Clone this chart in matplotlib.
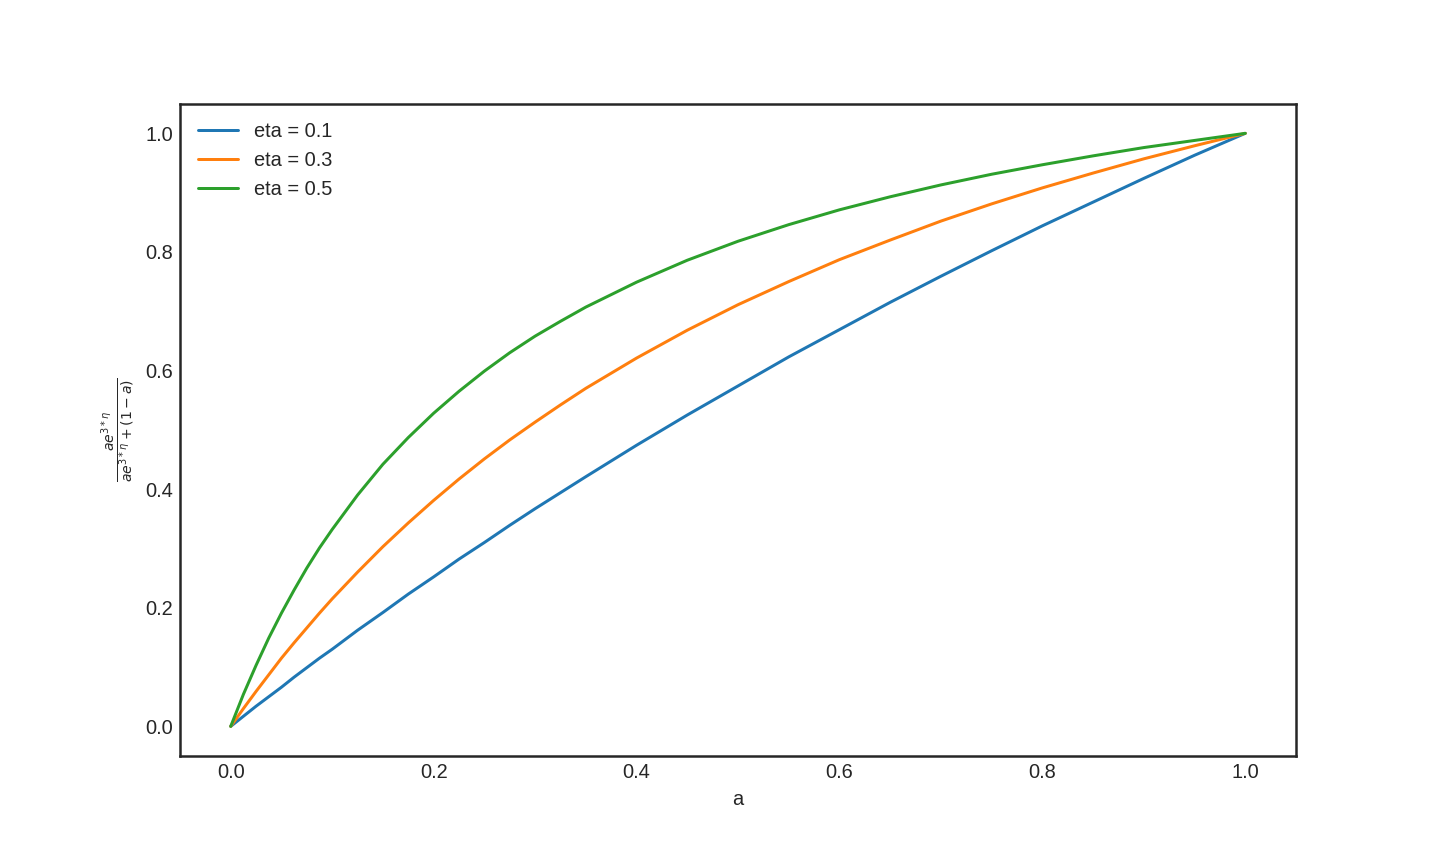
import matplotlib
matplotlib.use("Agg")
import matplotlib.pyplot as plt

# values
a_vals = [0.0, 0.0125, 0.025, 0.0375, 0.05, 0.0625, 0.075, 0.0875, 0.1, 0.125, 0.15, 0.175,
          0.2, 0.225, 0.25, 0.275, 0.3, 0.325, 0.35, 0.4, 0.45,
          0.5, 0.55, 0.6, 0.65, 0.7, 0.75, 0.8, 0.85, 0.9, 0.95, 1.0]
eta_01 = [0.0, 0.017, 0.034, 0.050, 0.066, 0.083, 0.099, 0.115, 0.130, 0.162, 0.192, 0.223,
          0.252, 0.282, 0.310, 0.339, 0.367, 0.394, 0.421, 0.474, 0.525,
          0.574, 0.623, 0.669, 0.715, 0.759, 0.802, 0.844, 0.884, 0.924, 0.963, 1.0]
eta_03 = [0.0, 0.030, 0.059, 0.087, 0.115, 0.141, 0.166, 0.191, 0.215, 0.260, 0.303, 0.343,
          0.381, 0.417, 0.451, 0.483, 0.513, 0.542, 0.570, 0.621, 0.668,
          0.711, 0.750, 0.787, 0.820, 0.852, 0.881, 0.908, 0.933, 0.957, 0.979, 1.0]
eta_05 = [0.0, 0.054, 0.103, 0.149, 0.191, 0.230, 0.267, 0.301, 0.332, 0.390, 0.442, 0.487,
          0.528, 0.565, 0.599, 0.630, 0.658, 0.683, 0.707, 0.749, 0.786,
          0.818, 0.846, 0.871, 0.893, 0.913, 0.931, 0.947, 0.962, 0.976, 0.988, 1.0]
etiquetas = ["eta = 0.1", "eta = 0.3", "eta = 0.5"]

plt.style.use("seaborn-v0_8-white")
plt.figure(figsize=(10, 6), dpi=144)

for serie, etiqueta in zip([eta_01, eta_03, eta_05], etiquetas):
    plt.plot(a_vals, serie, label=etiqueta)

plt.xlabel("a")
plt.ylabel(r"$\frac{ae^{3*\eta}}{ae^{3*\eta}+(1-a)}$")
plt.legend(loc="upper left")
plt.subplots_adjust(left=0.125, right=0.9, bottom=0.125, top=0.88)
plt.savefig("out.png", dpi=144)
